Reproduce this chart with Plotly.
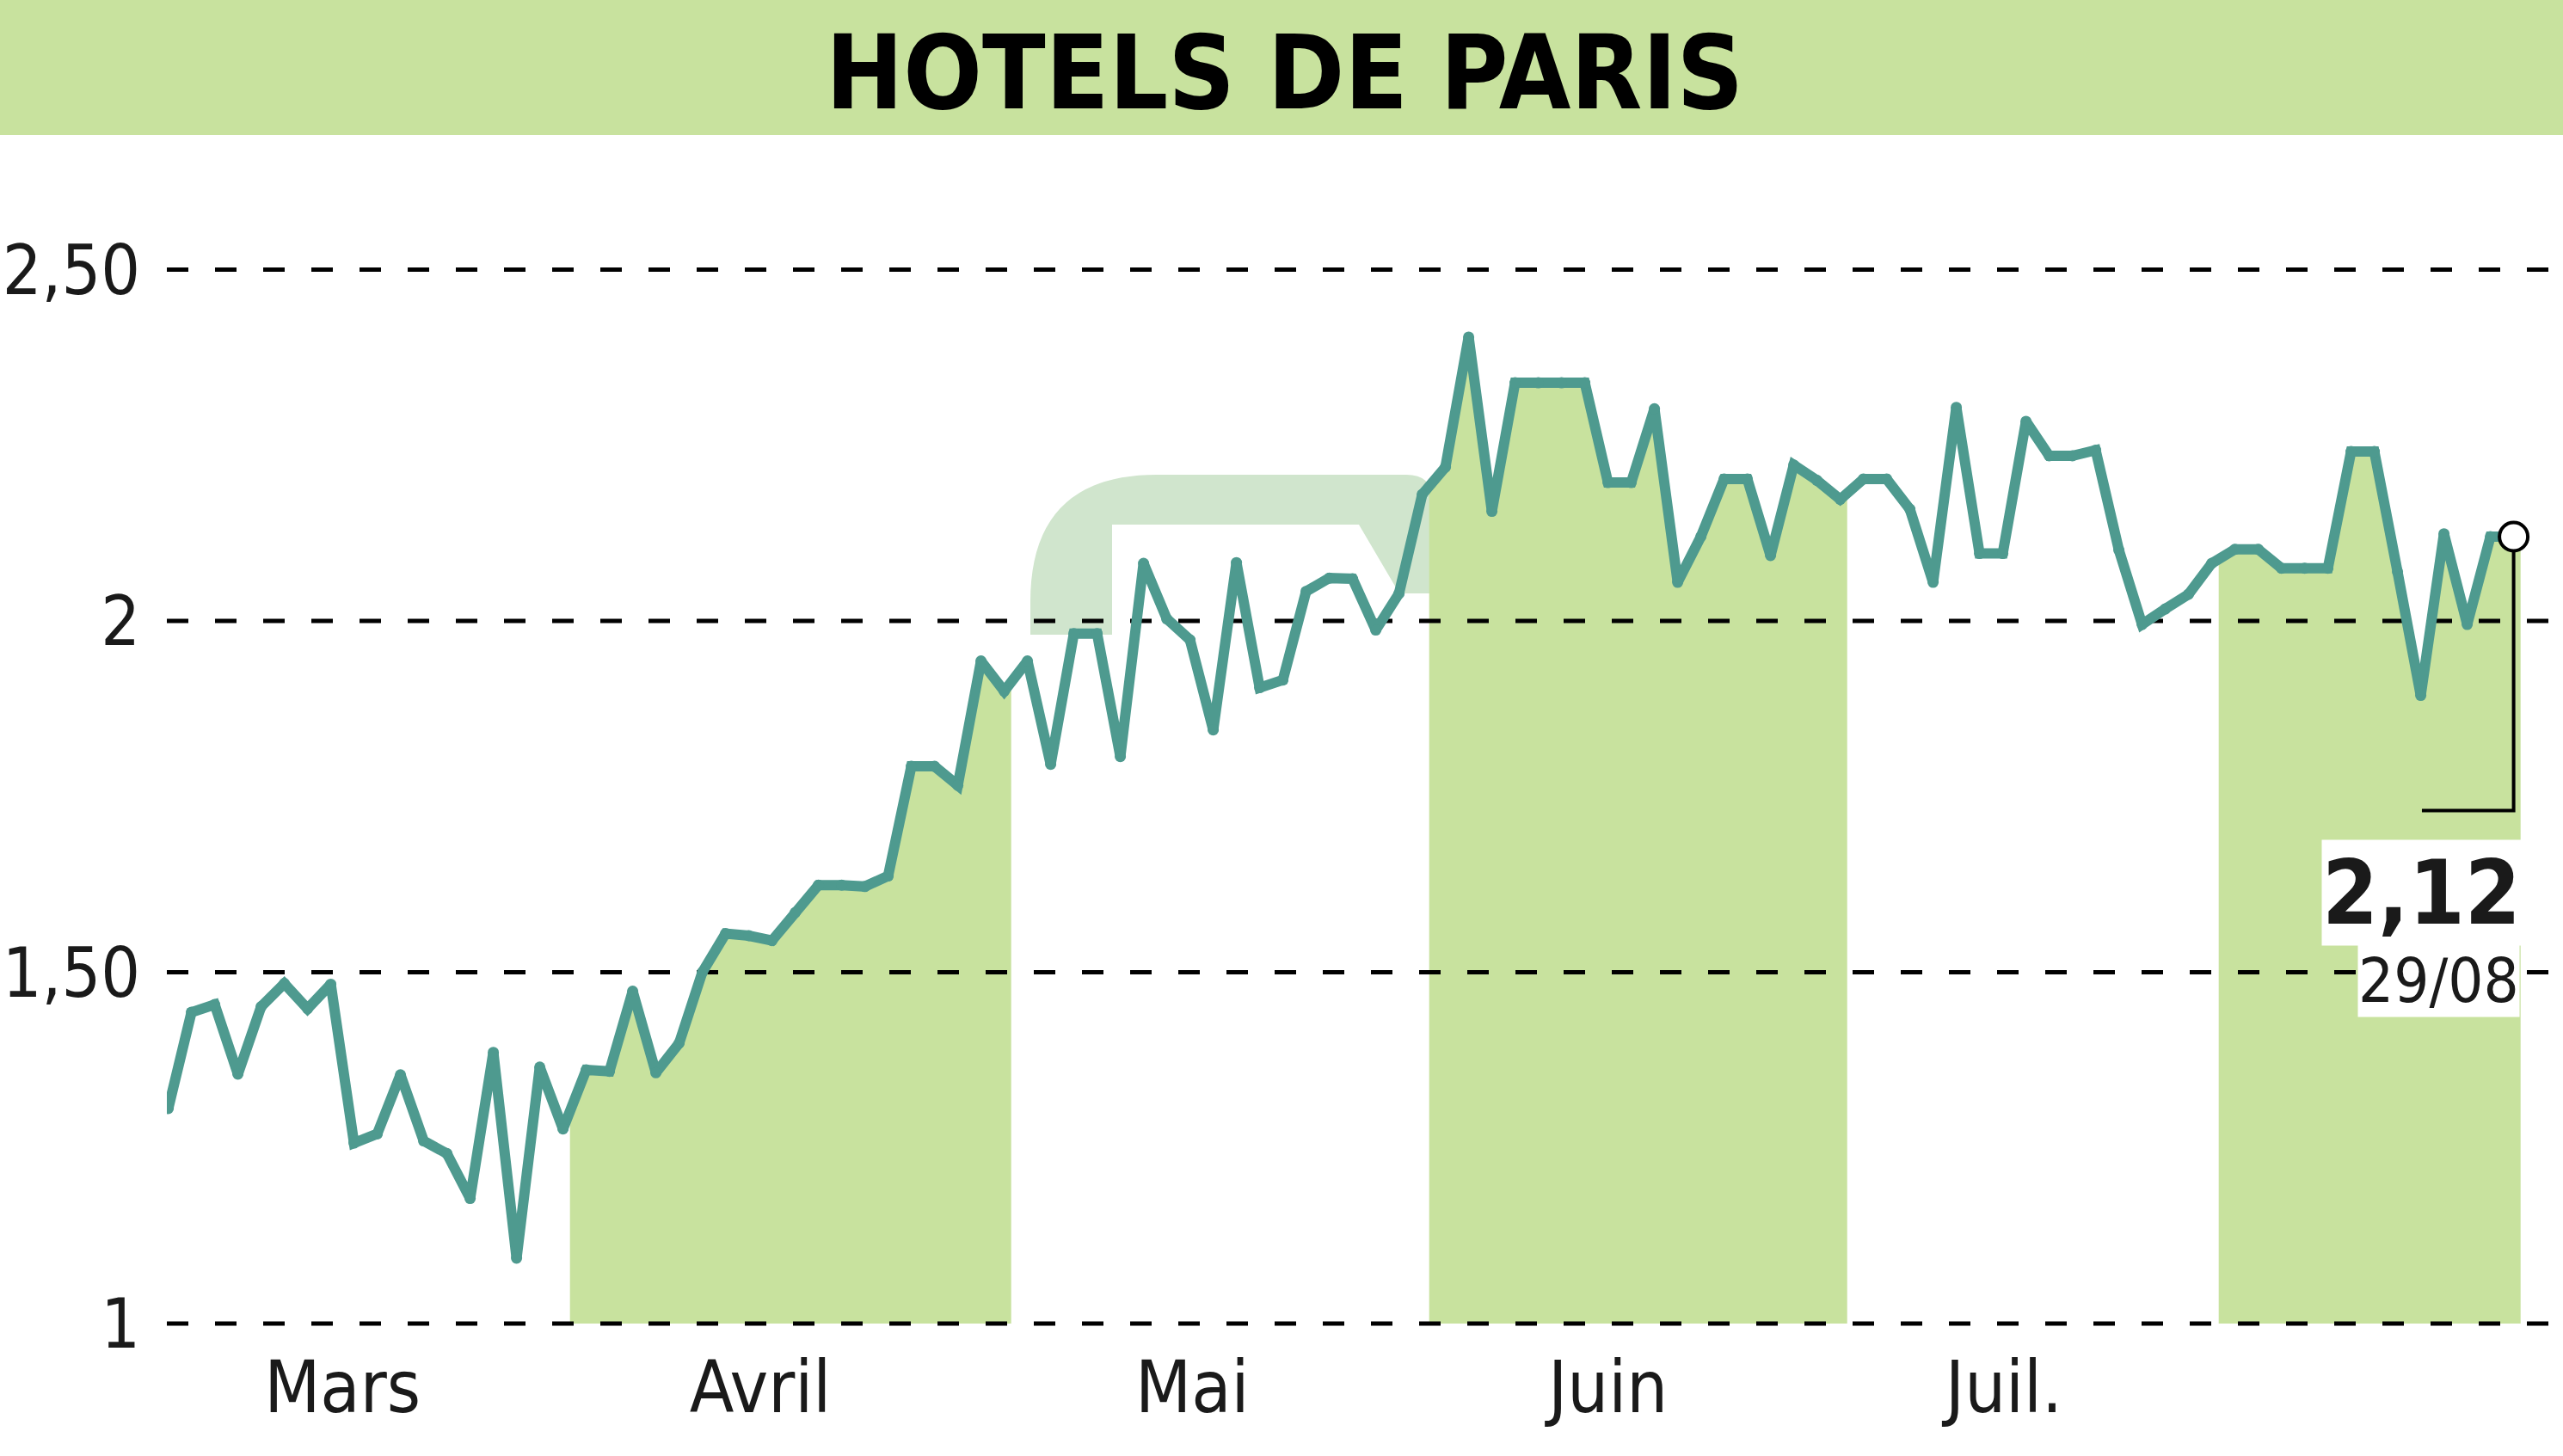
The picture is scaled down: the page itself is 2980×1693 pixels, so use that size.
import numpy as np
import plotly.graph_objects as go

# ---------------- data ----------------
values = [1.306, 1.443, 1.454, 1.355, 1.451, 1.484, 1.448, 1.483, 1.257, 1.270,
          1.354, 1.260, 1.242, 1.178, 1.386, 1.093, 1.365, 1.277, 1.361, 1.359,
          1.473, 1.357, 1.399, 1.500, 1.555, 1.552, 1.545, 1.585, 1.624, 1.624,
          1.622, 1.637, 1.793, 1.793, 1.766, 1.943, 1.900, 1.943, 1.796, 1.982,
          1.982, 1.807, 2.082, 2.003, 1.973, 1.845, 2.083, 1.905, 1.916, 2.042,
          2.061, 2.060, 1.987, 2.039, 2.180, 2.219, 2.404, 2.156, 2.339, 2.339,
          2.339, 2.339, 2.197, 2.197, 2.302, 2.055, 2.120, 2.202, 2.202, 2.093,
          2.222, 2.200, 2.173, 2.202, 2.202, 2.159, 2.055, 2.304, 2.096, 2.096,
          2.284, 2.235, 2.235, 2.243, 2.101, 1.995, 2.017, 2.038, 2.082, 2.102,
          2.102, 2.075, 2.075, 2.075, 2.241, 2.241, 2.070, 1.894, 2.124, 1.995,
          2.120, 2.120]
month_labels = ["Mars", "Avril", "Mai", "Juin", "Juil."]
month_label_pos = [7.5, 25.5, 44.1, 62.0, 79.05]
band_starts = [17.3, 54.3, 88.3]
band_ends = [36.3, 72.3, 101.3]
y_tickvals = [1, 1.5, 2, 2.5]
y_ticktext = ["1", "1,50", "2", "2,50"]
title_text = "HOTELS DE PARIS"
last_value_text = "2,12"
last_date_text = "29/08"

# ---------------- styling / layout geometry ----------------
W, H = 2980, 1693
L, R, T, B = 194, 2980, 200, 1545
GREEN = "#C8E29E"
TEAL = "#4E9A8F"
X0_PX, DX_PX = 195.6, 27.0
Y2_PX, PX_PER_UNIT = 722.0, 817.0
x_range = [(L - X0_PX) / DX_PX, (R - X0_PX) / DX_PX]
y_range = [2 - (B - Y2_PX) / PX_PER_UNIT, 2 + (Y2_PX - T) / PX_PER_UNIT]

def px_x(px):
    return (px - L) / (R - L)

def px_y(py):
    return (B - py) / (B - T)

FONT = "Liberation Sans Narrow, DejaVu Sans Condensed, Roboto Condensed, Liberation Sans, sans-serif"

xs = np.arange(len(values))
ys = np.array(values)

fig = go.Figure()

# green month bands, filled under the price line
for a, b in zip(band_starts, band_ends):
    inner = xs[(xs > a) & (xs < b)]
    bx = np.concatenate([[a], inner, [b]])
    by = np.interp(bx, xs, ys)
    px_ = np.concatenate([bx, [b, a]])
    py_ = np.concatenate([by, [1, 1]])
    fig.add_trace(go.Scatter(x=px_, y=py_, mode="lines", fill="toself",
                             fillcolor=GREEN, line=dict(width=0),
                             hoverinfo="skip", showlegend=False))

# dashed horizontal grid lines (drawn over the bands, under the line)
for v in y_tickvals:
    fig.add_trace(go.Scatter(x=x_range, y=[v, v], mode="lines",
                             line=dict(color="black", width=5, dash="25px,31px"),
                             hoverinfo="skip", showlegend=False))

# price line
fig.add_trace(go.Scatter(x=xs, y=ys, mode="lines+markers",
                         line=dict(color=TEAL, width=12, shape="linear"),
                         marker=dict(size=13, color=TEAL, symbol="circle"),
                         showlegend=False))

# bracket from the last point to the label
xl, yl = xs[-1], ys[-1]
fig.add_trace(go.Scatter(x=[xl, xl, xl - 3.95], y=[yl, yl - 0.39, yl - 0.39],
                         mode="lines", line=dict(color="black", width=4),
                         hoverinfo="skip", showlegend=False))
# last point marker
fig.add_trace(go.Scatter(x=[xl], y=[yl], mode="markers",
                         marker=dict(size=33, color="white",
                                     line=dict(color="black", width=4)),
                         showlegend=False))

shapes = []
# title band
shapes.append(dict(type="rect", xref="paper", yref="paper",
                   x0=px_x(0), x1=px_x(W), y0=px_y(157), y1=px_y(0),
                   fillcolor=GREEN, line=dict(width=0), layer="below"))
# faded logo watermark
def P(x, y):
    return f"{px_x(x):.5f},{px_y(y):.5f}"
path = (f"M {P(1198, 738)} L {P(1198, 700)} Q {P(1198, 552)} {P(1345, 552)} "
        f"L {P(1635, 552)} Q {P(1665, 552)} {P(1665, 580)} L {P(1665, 690)} "
        f"L {P(1627, 690)} L {P(1580, 610)} L {P(1293, 610)} L {P(1293, 738)} Z")
shapes.append(dict(type="path", xref="paper", yref="paper", path=path,
                   fillcolor="#D0E5CD", line=dict(width=0), layer="below"))

annotations = [
    dict(text=f"<b>{title_text}</b>", xref="paper", yref="paper",
         x=px_x(1493), y=px_y(84), xanchor="center", yanchor="middle",
         showarrow=False, font=dict(family=FONT, size=120, color="black")),
    dict(text=f"<b>{last_value_text}</b>", xref="paper", yref="paper",
         x=px_x(2932), y=px_y(1038), xanchor="right", yanchor="middle",
         showarrow=False, bgcolor="white", borderpad=0,
         font=dict(family=FONT, size=104, color="#1a1a1a")),
    dict(text=last_date_text, xref="paper", yref="paper",
         x=px_x(2930), y=px_y(1140), xanchor="right", yanchor="middle",
         showarrow=False, bgcolor="white", borderpad=0,
         font=dict(family=FONT, size=72, color="#1a1a1a")),
]

fig.update_layout(
    width=W, height=H, autosize=False,
    margin=dict(l=L, r=W - R, t=T, b=H - B, pad=0, autoexpand=False),
    paper_bgcolor="white", plot_bgcolor="white",
    shapes=shapes, annotations=annotations,
    showlegend=False, hovermode=False,
    xaxis=dict(range=x_range, showgrid=False, zeroline=False, showline=False,
               automargin=False,
               tickmode="array", tickvals=month_label_pos, ticktext=month_labels,
               ticks="", ticklabelstandoff=12,
               tickfont=dict(family=FONT, size=84, color="#1a1a1a")),
    yaxis=dict(range=y_range, showgrid=False, zeroline=False, showline=False,
               automargin=False,
               tickmode="array", tickvals=y_tickvals, ticktext=y_ticktext,
               ticks="", ticklabelstandoff=30,
               tickfont=dict(family=FONT, size=80, color="#1a1a1a")),
)

fig.write_html("out.html", config={"displayModeBar": False},
               post_script="document.body.style.margin='0';")
